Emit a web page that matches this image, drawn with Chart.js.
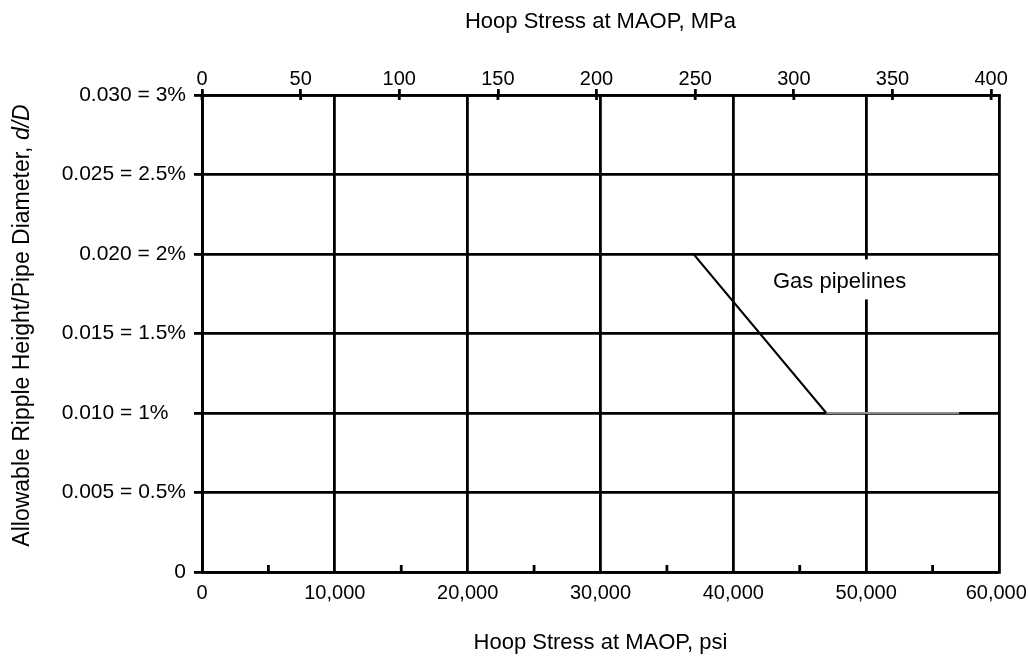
<!DOCTYPE html>
<html>
<head>
<meta charset="utf-8">
<title>Allowable ripple height vs hoop stress</title>
<script src="https://cdn.jsdelivr.net/npm/chart.js@4.4.1/dist/chart.umd.min.js"></script>
<style>
  html, body { margin: 0; padding: 0; background: #fff; }
  #wrap { width: 1028px; height: 656px; position: relative; }
</style>
</head>
<body>
<div id="wrap"><canvas id="rippleChart"></canvas></div>
<script>
// Values
const stressPsi = [0, 37000, 47000, 57000];
const rippleRatio = [0.02, 0.02, 0.01, 0.01];

const psiTickLabels = ['0', '10,000', '20,000', '30,000', '40,000', '50,000', '60,000'];
const mpaTickLabels = ['0', '50', '100', '150', '200', '250', '300', '350', '400'];
const ratioTickLabels = ['0', '0.005 = 0.5%', '0.010 = 1%', '0.015 = 1.5%', '0.020 = 2%', '0.025 = 2.5%', '0.030 = 3%'];

const seriesLabel = 'Gas pipelines';
const seriesLabelAt = { x: 48000, y: 0.0184 };

const yTitleMain = 'Allowable Ripple Height/Pipe Diameter, ';
const yTitleItalic = 'd/D';

const FONT = '"Liberation Sans", Arial, Helvetica, sans-serif';
Chart.defaults.font.family = FONT;
Chart.defaults.color = '#000';

const LINE_W = 2.8;

// Fixed plot box: left 202, top 95, right 999, bottom 572
function pinBox(size, horizontal) {
    return (s) => {
        if (horizontal) s.height = size; else s.width = size;
        s.paddingLeft = s.paddingRight = s.paddingTop = s.paddingBottom = 0;
    };
}

// Extra marks: inward minor ticks, MPa ticks crossing the top axis,
// the series label on its white box and the rotated y title
const decorations = {
    id: 'decorations',
    afterDatasetsDraw(chart) {
        const { ctx, chartArea, scales: { x, x2 } } = chart;
        ctx.save();
        ctx.strokeStyle = '#000';
        ctx.lineWidth = LINE_W;
        x.ticks.forEach(t => {
            if (t.value % 10000 === 0) return;
            const px = x.getPixelForValue(t.value);
            ctx.beginPath();
            ctx.moveTo(px, chartArea.bottom);
            ctx.lineTo(px, chartArea.bottom - 7);
            ctx.stroke();
        });
        x2.ticks.forEach(t => {
            const px = x2.getPixelForValue(t.value);
            ctx.beginPath();
            ctx.moveTo(px, chartArea.top);
            ctx.lineTo(px, chartArea.top + 5);
            ctx.stroke();
        });

        const lx = x.getPixelForValue(seriesLabelAt.x);
        const ly = chart.scales.y.getPixelForValue(seriesLabelAt.y);
        ctx.font = '22px ' + FONT;
        const w = ctx.measureText(seriesLabel).width;
        ctx.fillStyle = '#fff';
        ctx.fillRect(lx - w / 2 - 4, ly - 20, w + 8, 40);
        ctx.fillStyle = '#000';
        ctx.textAlign = 'center';
        ctx.textBaseline = 'middle';
        ctx.fillText(seriesLabel, lx, ly + 2);
        ctx.restore();
    },
    afterDraw(chart) {
        const { ctx, chartArea } = chart;
        const plain = '23px ' + FONT;
        const italic = 'italic 23px ' + FONT;
        ctx.save();
        ctx.font = plain;
        const w1 = ctx.measureText(yTitleMain).width;
        ctx.font = italic;
        const w2 = ctx.measureText(yTitleItalic).width;
        ctx.translate(29, (chartArea.top + chartArea.bottom) / 2 - 8);
        ctx.rotate(-Math.PI / 2);
        ctx.fillStyle = '#000';
        ctx.textAlign = 'left';
        ctx.textBaseline = 'alphabetic';
        const start = -(w1 + w2) / 2;
        ctx.font = plain;
        ctx.fillText(yTitleMain, start, 0);
        ctx.font = italic;
        ctx.fillText(yTitleItalic, start + w1, 0);
        ctx.restore();
    }
};

const points = stressPsi.map((v, i) => ({ x: v, y: rippleRatio[i] }));

new Chart(document.getElementById('rippleChart'), {
    type: 'scatter',
    data: {
        datasets: [{
            label: seriesLabel,
            data: points,
            showLine: true,
            pointRadius: 0,
            borderColor: '#000',
            borderWidth: 2,
            segment: {
                // last run along 1% is printed in grey
                borderColor: c => c.p0DataIndex === stressPsi.length - 2 ? '#8c8c8c' : '#000'
            }
        }]
    },
    options: {
        responsive: true,
        maintainAspectRatio: false,
        animation: false,
        layout: { padding: { left: 0, right: 29, top: 0, bottom: 0 }, autoPadding: false },
        plugins: {
            legend: { display: false },
            tooltip: { enabled: false }
        },
        scales: {
            x: {
                type: 'linear',
                position: 'bottom',
                min: 0,
                max: 60000,
                afterFit: pinBox(84, true),
                ticks: {
                    stepSize: 5000,
                    autoSkip: false,
                    maxRotation: 0,
                    padding: 9,
                    font: { size: 20 },
                    callback: v => {
                        if (v % 10000 !== 0) return '';
                        // keep the last label inside the page edge
                        return v === 60000 ? psiTickLabels[v / 10000] + ' ' : psiTickLabels[v / 10000];
                    }
                },
                grid: {
                    color: c => c.tick && c.tick.value % 10000 === 0 ? '#000' : 'rgba(0,0,0,0)',
                    lineWidth: LINE_W,
                    drawTicks: false
                },
                border: { display: true, color: '#000', width: LINE_W },
                title: {
                    display: true,
                    text: 'Hoop Stress at MAOP, psi',
                    font: { size: 22 },
                    padding: { top: 0, bottom: 0 }
                }
            },
            x2: {
                type: 'linear',
                position: 'top',
                min: 0,
                max: 404,
                afterFit: pinBox(95, true),
                ticks: {
                    stepSize: 50,
                    includeBounds: false,
                    autoSkip: false,
                    maxRotation: 0,
                    padding: 0,
                    font: { size: 20, lineHeight: 1 },
                    callback: v => mpaTickLabels[Math.round(v / 50)]
                },
                grid: {
                    drawOnChartArea: false,
                    color: '#000',
                    lineWidth: LINE_W,
                    tickLength: 6
                },
                border: { display: true, color: '#000', width: LINE_W },
                title: {
                    display: true,
                    text: 'Hoop Stress at MAOP, MPa',
                    font: { size: 22 },
                    padding: { top: 9, bottom: 0 }
                }
            },
            y: {
                type: 'linear',
                min: 0,
                max: 0.03,
                afterFit: pinBox(202, false),
                ticks: {
                    stepSize: 0.005,
                    autoSkip: false,
                    padding: 8,
                    font: { size: 21 },
                    callback: v => {
                        const i = Math.round(v / 0.005);
                        // the 1% label sits indented like in the print
                        return i === 2 ? ratioTickLabels[i] + '   ' : ratioTickLabels[i];
                    }
                },
                grid: {
                    color: '#000',
                    lineWidth: LINE_W,
                    tickLength: 8,
                    tickColor: '#000'
                },
                border: { display: true, color: '#000', width: LINE_W }
            }
        }
    },
    plugins: [decorations]
});
</script>
</body>
</html>
